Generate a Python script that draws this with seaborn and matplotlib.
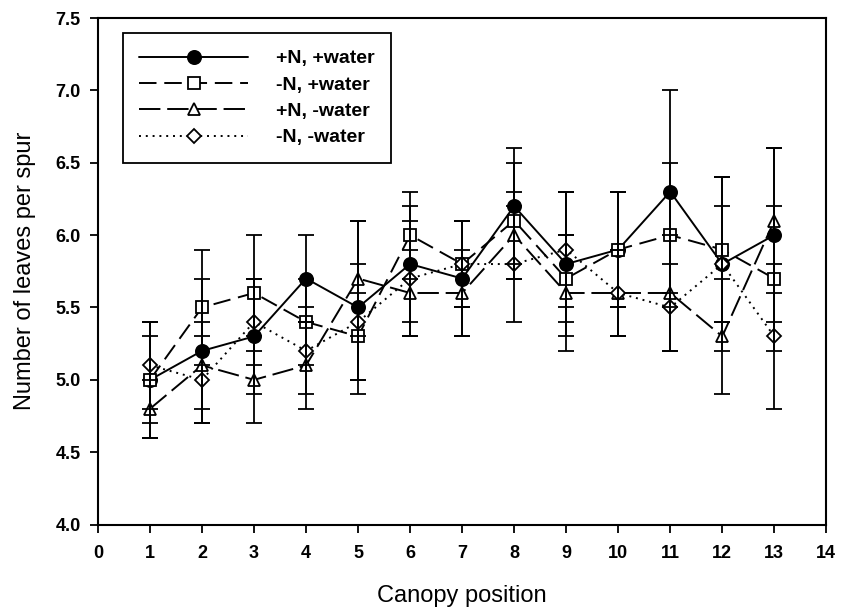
import matplotlib
matplotlib.use("Agg")
import matplotlib.pyplot as plt
import seaborn as sns
import numpy as np
import pandas as pd
from matplotlib.lines import Line2D

# ---- data ----
positions = [1, 2, 3, 4, 5, 6, 7, 8, 9, 10, 11, 12, 13]
labels = ["+N, +water", "-N, +water", "+N, -water", "-N, -water"]

npw_mean = [5.0, 5.2, 5.3, 5.7, 5.5, 5.8, 5.7, 6.2, 5.8, 5.9, 6.3, 5.8, 6.0]
npw_err = [0.4, 0.5, 0.4, 0.3, 0.6, 0.4, 0.4, 0.4, 0.5, 0.4, 0.7, 0.6, 0.6]

nmw_mean = [5.0, 5.5, 5.6, 5.4, 5.3, 6.0, 5.8, 6.1, 5.7, 5.9, 6.0, 5.9, 5.7]
nmw_err = [0.3, 0.4, 0.4, 0.3, 0.3, 0.3, 0.3, 0.4, 0.3, 0.4, 0.5, 0.5, 0.5]

pnd_mean = [4.8, 5.1, 5.0, 5.1, 5.7, 5.6, 5.6, 6.0, 5.6, 5.6, 5.6, 5.3, 6.1]
pnd_err = [0.2, 0.3, 0.3, 0.3, 0.4, 0.3, 0.3, 0.3, 0.4, 0.3, 0.4, 0.4, 0.5]

nnd_mean = [5.1, 5.0, 5.4, 5.2, 5.4, 5.7, 5.8, 5.8, 5.9, 5.6, 5.5, 5.8, 5.3]
nnd_err = [0.3, 0.3, 0.3, 0.3, 0.4, 0.4, 0.3, 0.4, 0.4, 0.3, 0.3, 0.4, 0.5]

means = [npw_mean, nmw_mean, pnd_mean, nnd_mean]
errs = [npw_err, nmw_err, pnd_err, nnd_err]

x_ticks = list(range(0, 15))
y_ticks = [4.0, 4.5, 5.0, 5.5, 6.0, 6.5, 7.0, 7.5]

# ---- style ----
sns.set_style("ticks")
plt.rcParams['font.family'] = ['Liberation Sans', 'DejaVu Sans']
plt.rcParams['text.color'] = 'black'
plt.rcParams['axes.labelcolor'] = 'black'
plt.rcParams['xtick.color'] = 'black'
plt.rcParams['ytick.color'] = 'black'

markers = ['o', 's', '^', 'D']
facecols = ['black', 'white', 'white', 'white']
msizes = [9.5, 8, 8.5, 7.5]
dashes = [None, (9, 4), (11, 3.5), (1, 2.5)]
lw = 1.4

fig = plt.figure(figsize=(8.41, 6.11), dpi=100)
ax = fig.add_axes([0.1165, 0.1415, 0.8660, 0.8290])

df = pd.DataFrame({
    'pos': np.tile(positions, 4),
    'val': np.concatenate(means),
    'err': np.concatenate(errs),
    'series': np.repeat(labels, len(positions)),
})

for i, lab in enumerate(labels):
    sub = df[df.series == lab]
    kw = dict(color='black', linewidth=lw, marker=markers[i],
              markersize=msizes[i], markerfacecolor=facecols[i],
              markeredgecolor='black', markeredgewidth=1.3, zorder=3)
    if dashes[i] is not None:
        kw['dashes'] = dashes[i]
    sns.lineplot(data=sub, x='pos', y='val', ax=ax, errorbar=None,
                 sort=False, legend=False, **kw)

for i, lab in enumerate(labels):
    sub = df[df.series == lab]
    ax.errorbar(sub['pos'], sub['val'], yerr=sub['err'], fmt='none',
                ecolor='black', elinewidth=1.3, capsize=6, capthick=1.3,
                zorder=4)

ax.set_xlim(0, 14)
ax.set_ylim(4.0, 7.5)
ax.set_xticks(x_ticks)
ax.set_yticks(y_ticks)
ax.set_yticklabels([f"{v:.1f}" for v in y_ticks])
ax.tick_params(direction='out', length=5.5, width=1.3, labelsize=13,
               colors='black')
ax.tick_params(axis='x', pad=9)
ax.tick_params(axis='y', pad=7)
for t in ax.get_xticklabels() + ax.get_yticklabels():
    t.set_fontweight('bold')
for s in ax.spines.values():
    s.set_visible(True)
    s.set_linewidth(1.5)
    s.set_color('black')

ax.set_xlabel("Canopy position", fontsize=17, labelpad=17)
ax.set_ylabel("Number of leaves per spur", fontsize=17, labelpad=14)

handles = []
for i, lab in enumerate(labels):
    h = Line2D([0], [0], color='black', linewidth=lw, marker=markers[i],
               markersize=msizes[i], markerfacecolor=facecols[i],
               markeredgecolor='black', markeredgewidth=1.3)
    if dashes[i] is not None:
        h.set_dashes(dashes[i])
    handles.append(h)

leg = ax.legend(handles, labels, loc='upper left',
                bbox_to_anchor=(0.0343, 0.970), borderaxespad=0,
                fancybox=False, framealpha=1, edgecolor='black',
                handlelength=5.6, handletextpad=1.4, labelspacing=0.45,
                borderpad=0.85,
                prop={'size': 14, 'weight': 'bold'})
leg.get_frame().set_linewidth(1.3)

fig.savefig("out.png", dpi=100)
